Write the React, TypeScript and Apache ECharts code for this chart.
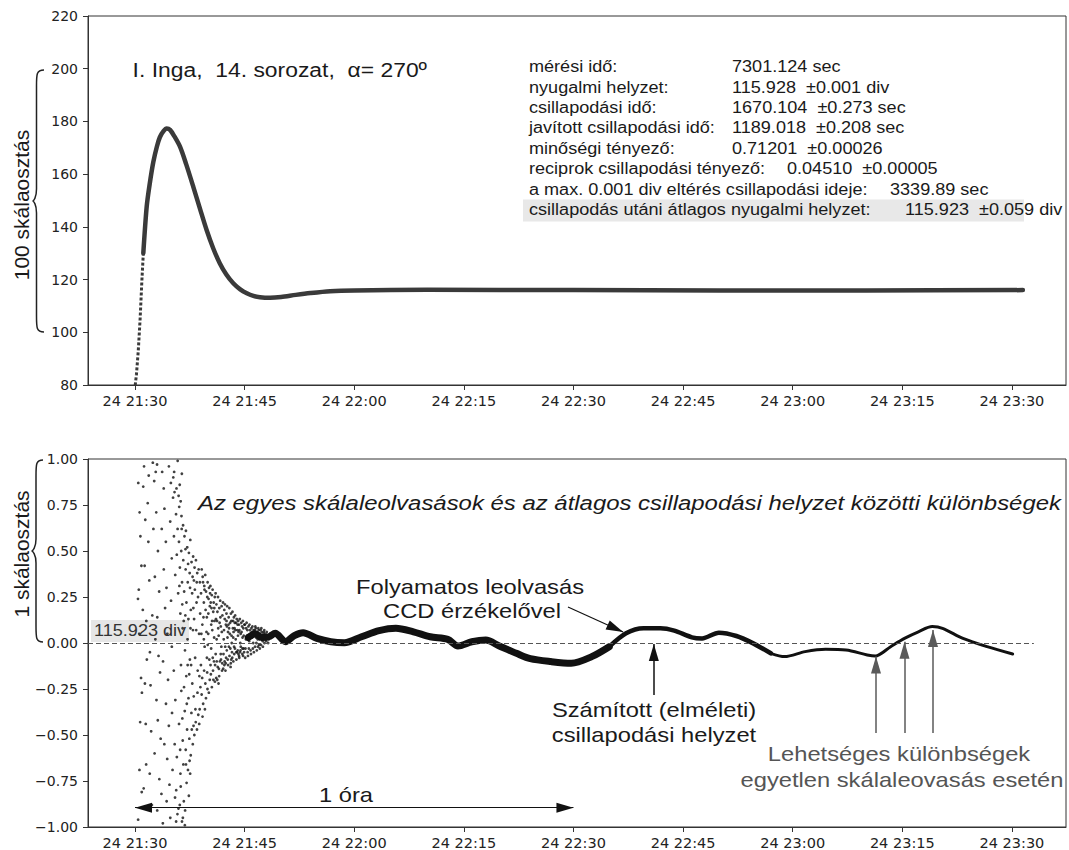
import React, { useEffect, useRef } from 'react';
import * as echarts from 'echarts';

// ---------- data (x in minutes after 24 21:30) ----------
const X_MIN = -6.43;
const X_MAX = 127.4;
const X_TICKS = [0, 15, 30, 45, 60, 75, 90, 105, 120];
const X_TICK_LABELS = ['24 21:30', '24 21:45', '24 22:00', '24 22:15', '24 22:30', '24 22:45', '24 23:00', '24 23:15', '24 23:30'];

// top panel: scale reading (div)
const TOP_RISE: [number, number][] = [[-0.05, 78], [0.2, 84], [0.45, 93], [0.7, 105], [0.95, 120], [1.14, 130]];
const TOP_CURVE: [number, number][] = [
  [1.14, 130], [1.6, 147.6], [2.0, 156], [2.5, 164.5], [3.0, 170.5], [3.4, 174], [3.9, 176.3], [4.34, 177.3],
  [4.8, 176.8], [5.4, 174.3], [6.16, 170.4], [7.0, 163.8], [7.98, 155.2], [8.9, 146.8], [9.8, 138.8], [10.7, 131.9],
  [11.6, 126.2], [12.5, 121.9], [13.45, 118.6], [14.4, 116.3], [15.3, 114.8], [16.2, 113.8], [17.1, 113.3], [18.5, 113.1],
  [20.0, 113.4], [22.0, 114.2], [24.0, 114.9], [26.7, 115.6], [30.0, 115.9], [40.0, 116.1], [60.0, 116.0], [80.0, 115.9],
  [100.0, 115.9], [121.5, 116.0],
];

// bottom panel: individual reading minus mean position (div)
const RES_SCATTER: [number, number][] = [
  [0.45, 0.87], [0.52, 0.29], [0.41, 0.24], [0.63, 0.71], [0.74, 0.58], [0.88, 0.42], [0.83, -0.19], [0.95, -0.27], [0.61, -0.69], [0.92, -0.81],
  [0.43, -0.96], [0.58, 0.05], [0.71, -0.43], [1.13, 0.85], [1.24, 0.96], [1.41, 0.67], [1.32, 0.42], [1.55, 0.12], [1.62, -0.09], [1.47, -0.44],
  [1.53, -0.66], [1.19, -0.79], [1.07, 0.18], [1.36, -0.22], [1.74, 0.76], [1.83, 0.55], [1.96, 0.34], [2.04, -0.05], [2.13, -0.23], [2.21, -0.48],
  [2.02, -0.71], [2.31, -0.88], [2.44, 0.98], [2.52, 0.62], [2.37, 0.15], [1.88, 0.91], [2.63, 0.88], [2.84, 0.93], [3.02, 0.97], [2.91, 0.71],
  [3.14, 0.5], [2.72, 0.36], [3.31, 0.28], [3.05, 0.14], [2.79, 0.02], [3.22, -0.07], [3.43, -0.16], [2.94, -0.31], [3.12, -0.42], [3.51, -0.52],
  [2.68, -0.6], [3.33, -0.74], [3.62, -0.82], [3.04, -0.91], [3.81, -0.98], [3.72, 0.93], [3.93, 0.84], [4.03, 0.73], [3.66, 0.62], [4.22, 0.55],
  [3.94, 0.4], [4.31, 0.3], [4.12, 0.19], [4.43, 0.05], [3.84, -0.1], [4.52, -0.2], [4.24, -0.33], [4.63, -0.45], [4.02, -0.55], [4.41, -0.63],
  [4.72, -0.77], [4.33, -0.86], [4.83, -0.95], [4.64, 0.96], [4.91, 0.87], [4.82, 0.66], [5.03, 0.46], [4.93, 0.23], [5.04, -0.02], [5.07, -0.38],
  [5.14, -0.69], [5.21, 0.79], [5.36, 0.93], [5.48, -0.84], [5.63, -0.97], [5.84, 0.99], [5.95, -0.9], [6.12, 0.86], [6.26, -0.78], [6.41, 0.92],
  [6.55, -0.95], [6.68, -0.86], [6.82, -0.99],
  [5.24, 0.9], [5.41, 0.82], [5.33, 0.58], [5.62, 0.7], [5.51, 0.37], [5.83, 0.62], [5.72, 0.48], [6.02, 0.55], [6.14, 0.41], [5.91, 0.27],
  [6.33, 0.5], [6.44, 0.33], [6.21, 0.16], [6.61, 0.45], [6.73, 0.28], [6.52, 0.08], [6.93, 0.4], [7.04, 0.22], [6.84, -0.04], [7.22, 0.33],
  [7.31, 0.13], [7.53, 0.3], [7.64, 0.18], [7.82, 0.27], [7.93, 0.07], [6.05, 0.74], [6.36, 0.69], [6.58, 0.64], [6.77, 0.58], [6.97, 0.61],
  [7.15, 0.52], [7.38, 0.49], [7.57, 0.56], [7.74, 0.44], [7.96, 0.47], [8.15, 0.41], [8.34, 0.45], [8.52, 0.38], [8.71, 0.4], [8.88, 0.33],
  [5.68, 0.84], [5.97, 0.8], [6.25, 0.77],
  [5.31, -0.15], [5.52, -0.31], [5.43, -0.55], [5.64, -0.8], [5.81, -0.93], [5.73, -0.62], [6.03, -0.44], [6.22, -0.71], [6.13, -0.88], [6.34, -0.26],
  [6.53, -0.53], [6.62, -0.66], [6.81, -0.37], [6.94, -0.58], [7.02, -0.18], [7.13, -0.47], [7.32, -0.3], [7.44, -0.52], [7.51, -0.09], [7.72, -0.38],
  [7.84, -0.22], [8.01, -0.45], [6.43, -0.97], [7.06, -0.76], [7.63, -0.61], [7.25, -0.69], [7.47, -0.64], [7.91, -0.55], [8.12, -0.5], [8.31, -0.43],
  [8.48, -0.47], [8.66, -0.39], [8.85, -0.36], [7.37, -0.83], [6.86, -0.91],
  [8.09, 0.13], [8.23, -0.08], [8.42, 0.22], [8.58, -0.15], [8.77, 0.05], [8.95, -0.24], [7.19, 0.02], [7.68, -0.12], [6.67, 0.12],
  [6.08, 0.31], [6.29, -0.12], [6.47, 0.21], [6.71, -0.24], [6.89, 0.15], [7.09, -0.33], [7.27, 0.43], [7.42, -0.17], [7.59, 0.08], [7.77, -0.47],
  [7.88, 0.36], [8.04, -0.29], [8.19, 0.29], [8.27, -0.36], [8.38, 0.07], [8.55, -0.27], [8.63, 0.25], [8.81, -0.18], [8.92, 0.16], [6.18, -0.58],
  [6.48, -0.41], [6.98, -0.66], [7.21, -0.12], [7.55, -0.71], [7.99, 0.19], [8.45, 0.33], [8.79, -0.44], [6.39, 0.62], [6.91, 0.51], [7.48, 0.38],
  [8.06, 0.34],
  [9.04, 0.27], [9.13, 0.4], [9.22, 0.1], [9.31, 0.33], [9.42, 0.22], [9.53, -0.02], [9.61, 0.37], [9.72, 0.28], [9.83, 0.14], [9.94, 0.33],
  [10.02, 0.05], [10.13, 0.3], [10.24, 0.2], [10.32, 0.31], [10.43, 0.1], [10.51, 0.26], [10.62, 0.29], [10.71, 0.17], [10.83, 0.03], [10.92, 0.25],
  [11.03, 0.27], [11.14, 0.21], [11.23, 0.12], [11.36, 0.25], [11.45, 0.04], [11.54, 0.19], [11.66, 0.23], [11.74, 0.09], [11.85, 0.2], [11.96, 0.15],
  [9.26, 0.36], [9.66, 0.18], [10.07, 0.24], [10.47, 0.19], [10.88, 0.12], [11.28, 0.17], [11.69, 0.14],
  [9.12, -0.28], [9.33, -0.33], [9.46, -0.15], [9.71, -0.3], [9.92, -0.25], [10.11, -0.27], [10.34, -0.12], [10.52, -0.24], [10.73, -0.2], [10.94, -0.21],
  [11.12, -0.19], [11.32, -0.13], [11.52, -0.18], [11.73, -0.06], [11.91, -0.15], [9.02, -0.12], [9.84, -0.08], [10.23, -0.2], [10.64, -0.08], [11.43, -0.22],
  [9.57, -0.36], [9.24, -0.4], [10.42, -0.03], [10.81, -0.1], [11.04, -0.06], [11.62, -0.1], [9.42, 0.02], [9.95, -0.01], [10.58, 0.07], [11.17, 0.02],
  [11.82, -0.02],
  [9.08, 0.05], [9.19, -0.19], [9.37, 0.14], [9.51, 0.29], [9.63, -0.22], [9.78, 0.06], [9.88, -0.16], [10.04, 0.16], [10.17, -0.09], [10.28, 0.27],
  [10.38, -0.17], [10.55, 0.12], [10.68, -0.15], [10.77, 0.22], [10.96, -0.12], [11.08, 0.13], [11.19, -0.1], [11.39, 0.08], [11.48, -0.14], [11.58, 0.11],
  [11.77, -0.09], [11.88, 0.06], [9.48, 0.31], [9.89, 0.25], [10.36, 0.22], [10.85, 0.19], [11.26, -0.2], [11.94, -0.11],
  [12.05, 0.22], [12.14, 0.02], [12.22, 0.18], [12.31, 0.21], [12.43, 0.1], [12.52, 0.16], [12.61, 0.2], [12.73, 0.06], [12.82, 0.14], [12.91, 0.19],
  [13.02, 0.11], [13.13, 0.16], [13.21, 0.04], [13.34, 0.17], [13.42, 0.12], [13.53, 0.14], [13.62, 0.08], [13.71, 0.15], [13.83, 0.11], [13.92, 0.13],
  [14.01, 0.07], [14.12, 0.12], [14.23, 0.1], [14.34, 0.13], [14.46, 0.05], [14.55, 0.11], [14.66, 0.09], [14.77, 0.12], [14.88, 0.04], [14.97, 0.1],
  [12.07, -0.14], [12.26, -0.1], [12.38, -0.15], [12.56, -0.04], [12.74, -0.12], [12.93, -0.07], [13.08, -0.13], [13.27, -0.05], [13.46, -0.1], [13.67, -0.03],
  [13.88, -0.09], [14.06, -0.04], [14.27, -0.08], [14.48, -0.02], [14.69, -0.06], [14.86, -0.03], [12.47, -0.08], [12.85, -0.02], [13.17, -0.09], [13.58, -0.06],
  [13.97, -0.05], [14.38, -0.05], [14.79, -0.07],
  [12.18, 0.07], [12.35, -0.02], [12.66, 0.03], [12.97, 0.05], [13.24, 0.0], [13.49, 0.06], [13.78, 0.02], [14.09, 0.04], [14.41, 0.0], [14.72, 0.03],
  [12.79, 0.1], [13.39, 0.08], [14.18, 0.06],
  [12.11, -0.06], [12.28, 0.13], [12.41, -0.11], [12.58, 0.09], [12.69, -0.09], [12.88, 0.08], [13.05, -0.03], [13.19, 0.12], [13.31, -0.08], [13.44, 0.03],
  [13.56, -0.02], [13.74, 0.07], [13.86, -0.05], [14.03, 0.1], [14.15, -0.06], [14.29, 0.07], [14.44, -0.04], [14.58, 0.06], [14.71, -0.03], [14.83, 0.08],
  [14.93, -0.05], [12.23, -0.12], [12.53, 0.12], [13.11, -0.11], [13.65, 0.11], [14.24, -0.07],
  [15.03, 0.1], [15.12, -0.03], [15.21, 0.08], [15.33, 0.04], [15.41, -0.05], [15.52, 0.09], [15.63, 0.01], [15.71, 0.07], [15.82, -0.04], [15.93, 0.08],
  [16.02, 0.03], [16.13, -0.03], [16.22, 0.07], [16.31, 0.05], [16.43, -0.02], [16.52, 0.08], [16.61, 0.0], [16.72, 0.06], [16.83, -0.02], [16.94, 0.07],
  [17.02, 0.02], [17.13, 0.05], [17.24, -0.01], [17.36, 0.06], [17.47, 0.01], [17.58, 0.05], [17.72, 0.0], [17.85, 0.05], [17.97, 0.01], [18.12, 0.04],
  [18.31, 0.02], [18.48, 0.05], [15.08, -0.08], [15.46, -0.07], [15.87, -0.06], [16.27, -0.05], [16.67, -0.04], [17.08, -0.03], [17.5, -0.02], [15.27, 0.11],
  [15.67, 0.1], [16.07, 0.09], [16.47, 0.09], [16.87, 0.08], [17.29, 0.08], [17.69, 0.07],
  [15.17, 0.02], [15.37, 0.07], [15.58, -0.03], [15.77, 0.03], [15.98, 0.06], [16.18, 0.0], [16.38, 0.07], [16.58, 0.03], [16.78, 0.02], [16.98, -0.01],
  [17.18, 0.07], [17.41, 0.03], [17.63, 0.06], [17.81, 0.02], [18.03, 0.06], [18.22, 0.0],
];
const RES_LINE_A: [number, number][] = [
  [15.5, 0.03], [16.5, 0.05], [17.3, 0.03], [18.3, 0.034], [19.2, 0.053], [20.6, 0.007], [21.8, 0.04], [23.0, 0.056], [24.9, 0.025],
  [26.8, 0.007], [28.65, 0.002], [31.0, 0.034], [33.4, 0.067], [35.7, 0.08], [38.1, 0.061], [40.4, 0.034], [42.8, 0.02], [44.2, -0.016],
  [46.1, 0.007], [48.0, 0.016], [49.85, -0.016], [52.2, -0.056], [54.1, -0.085], [56.9, -0.101], [59.7, -0.11], [62.5, -0.074], [64.9, -0.02],
];
const RES_LINE_B: [number, number][] = [
  [64.9, -0.02], [67.2, 0.053], [69.6, 0.08], [71.9, 0.08], [73.8, 0.067], [76.2, 0.031], [77.6, 0.025], [79.9, 0.056], [82.3, 0.038],
  [84.6, -0.002], [87.0, -0.056],
];
const RES_LINE_C: [number, number][] = [
  [87.0, -0.056], [88.9, -0.074], [91.7, -0.047], [94.5, -0.034], [97.3, -0.038], [100.2, -0.065], [101.3, -0.071], [103.4, -0.02],
  [105.3, 0.025], [107.2, 0.061], [109.1, 0.089], [110.5, 0.08], [113.3, 0.025], [116.6, -0.02], [120.1, -0.06],
];

// ---------- shapes ----------
function bracePath(xe: number, xm: number, xt: number, y0: number, y1: number) {
  const ym = (y0 + y1) / 2;
  const r1 = 16, r2 = 12;
  return [
    `M${xe} ${y0}`,
    `C${xm} ${y0} ${xm} ${y0 + 4} ${xm} ${y0 + r1}`,
    `L${xm} ${ym - r2}`,
    `C${xm} ${ym - 3} ${xt + 1} ${ym} ${xt} ${ym}`,
    `C${xt + 1} ${ym} ${xm} ${ym + 3} ${xm} ${ym + r2}`,
    `L${xm} ${y1 - r1}`,
    `C${xm} ${y1 - 4} ${xm} ${y1} ${xe} ${y1}`,
  ].join(' ');
}
echarts.graphic.registerShape('braceTop', echarts.graphic.extendPath(bracePath(44, 36.5, 32.5, 70, 332), {}) as any);
echarts.graphic.registerShape('braceBot', echarts.graphic.extendPath(bracePath(43, 36, 31.5, 460, 642), {}) as any);

const FONT_TICK = '"DejaVu Sans", sans-serif';
const FONT_TXT = '"Liberation Sans", Arial, sans-serif';
const AX = '#333';

function txt(text: string, x: number, y: number, o: any = {}) {
  const align = o.align || 'left';
  return {
    type: 'text', x, y, z: 100, scaleX: o.sx ?? 1.13, rotation: o.rot || 0,
    style: {
      text, fontSize: o.size || 21, fontFamily: FONT_TXT, fontStyle: o.italic ? 'italic' : 'normal',
      fill: o.color || '#1a1a1a', textAlign: align, textVerticalAlign: 'middle', align, verticalAlign: 'middle',
    },
  };
}

function arrowPair(x0: number, y0: number, x1: number, y1: number, color: string, both = false, w = 1.3) {
  const head = { symbol: 'triangle', symbolSize: [10, 17], symbolOffset: [0, 8.5] };
  return [
    { coord: [x0, y0], ...(both ? head : { symbol: 'none' }), lineStyle: { color, width: w, type: 'solid' }, itemStyle: { color } },
    { coord: [x1, y1], ...head, itemStyle: { color } },
  ];
}

function xAxis(gridIndex: number) {
  return {
    type: 'value', gridIndex, min: X_MIN, max: X_MAX,
    axisLine: { show: true, onZero: false, lineStyle: { color: AX, width: 1 } },
    axisTick: { show: true, length: 5, lineStyle: { color: AX }, customValues: X_TICKS },
    axisLabel: {
      customValues: X_TICKS, fontFamily: FONT_TICK, fontSize: 14.5, color: '#222', margin: 8,
      formatter: (v: number) => { const i = X_TICKS.indexOf(Math.round(v)); return i >= 0 ? X_TICK_LABELS[i] : ''; },
    },
    splitLine: { show: false },
  };
}

const option: any = {
  animation: false,
  backgroundColor: '#fff',
  grid: [
    { left: 88, top: 16, width: 978, height: 369, show: true, borderColor: AX, borderWidth: 1, backgroundColor: 'transparent' },
    { left: 88, top: 459, width: 978, height: 368, show: true, borderColor: AX, borderWidth: 1, backgroundColor: 'transparent' },
  ],
  xAxis: [xAxis(0), xAxis(1)],
  yAxis: [
    {
      type: 'value', gridIndex: 0, min: 80, max: 220, interval: 20,
      axisLine: { show: true, onZero: false, lineStyle: { color: AX } }, axisTick: { show: true, length: 5, lineStyle: { color: AX } },
      axisLabel: { fontFamily: FONT_TICK, fontSize: 14, color: '#222', margin: 10 }, splitLine: { show: false },
    },
    {
      type: 'value', gridIndex: 1, min: -1, max: 1, interval: 0.25,
      axisLine: { show: true, onZero: false, lineStyle: { color: AX } }, axisTick: { show: true, length: 5, lineStyle: { color: AX } },
      axisLabel: {
        fontFamily: FONT_TICK, fontSize: 14, color: '#222', margin: 10,
        formatter: (v: number) => (v < -1e-9 ? '\u2212' : '') + Math.abs(v).toFixed(2),
      },
      splitLine: { show: false },
    },
  ],
  series: [
    {
      type: 'line', xAxisIndex: 0, yAxisIndex: 0, data: TOP_RISE, showSymbol: false, silent: true,
      lineStyle: { color: '#3a3a3a', width: 3, type: [3, 2] },
    },
    {
      type: 'line', xAxisIndex: 0, yAxisIndex: 0, data: TOP_CURVE, showSymbol: false, smooth: 0.3, silent: true,
      lineStyle: { color: '#3a3a3a', width: 4.5, cap: 'round', join: 'round' },
    },
    {
      type: 'scatter', xAxisIndex: 1, yAxisIndex: 1, data: RES_SCATTER, symbolSize: 2.8, silent: true,
      itemStyle: { color: '#111' },
    },
    {
      type: 'line', xAxisIndex: 1, yAxisIndex: 1, data: RES_LINE_A, showSymbol: false, smooth: 0.3, silent: true,
      lineStyle: { color: '#111', width: 7, cap: 'round', join: 'round' },
    },
    {
      type: 'line', xAxisIndex: 1, yAxisIndex: 1, data: RES_LINE_B, showSymbol: false, smooth: 0.3, silent: true,
      lineStyle: { color: '#111', width: 4.5, cap: 'round', join: 'round' },
    },
    {
      type: 'line', xAxisIndex: 1, yAxisIndex: 1, data: RES_LINE_C, showSymbol: false, smooth: 0.3, silent: true,
      lineStyle: { color: '#111', width: 3, cap: 'round', join: 'round' },
      markLine: {
        silent: true, animation: false, label: { show: false }, symbol: ['none', 'none'], emphasis: { disabled: true },
        data: [
          [
            { coord: [X_MIN, 0], symbol: 'none', lineStyle: { color: '#555', width: 1, type: [5, 3] } },
            { coord: [123, 0], symbol: 'none' },
          ],
          arrowPair(0, -0.895, 60, -0.895, '#111', true, 1.2),
          arrowPair(59.25, 0.196, 66.8, 0.06, '#111', false, 1.2),
          arrowPair(71.0, -0.283, 71.0, -0.005, '#111', false, 1.5),
          arrowPair(101.4, -0.489, 101.4, -0.074, '#5a5a5a', false, 1.5),
          arrowPair(105.3, -0.489, 105.3, 0.007, '#5a5a5a', false, 1.5),
          arrowPair(109.2, -0.489, 109.2, 0.071, '#5a5a5a', false, 1.5),
        ],
      },
    },
  ],
  graphic: [
    // top panel
    { type: 'braceTop', x: 0, y: 0, z: 100, style: { stroke: '#222', fill: 'none', lineWidth: 1.5 } },
    txt('100 skálaosztás', 21, 205, { align: 'center', rot: Math.PI / 2, sx: 1 }),
    txt('I. Inga,  14. sorozat,  \u03b1= 270\u00ba', 132.6, 70, { sx: 1.09 }),
    { type: 'rect', z: 1, shape: { x: 523, y: 199.5, width: 501, height: 22 }, style: { fill: '#e8e8e8' } },
    txt('mérési idő:', 529, 67, { size: 16 }),
    txt('7301.124 sec', 732, 67, { size: 16 }),
    txt('nyugalmi helyzet:', 529, 87.4, { size: 16 }),
    txt('115.928  ±0.001 div', 732, 87.4, { size: 16 }),
    txt('csillapodási idő:', 529, 107.8, { size: 16 }),
    txt('1670.104  ±0.273 sec', 732, 107.8, { size: 16 }),
    txt('javított csillapodási idő:', 529, 128.2, { size: 16 }),
    txt('1189.018  ±0.208 sec', 732, 128.2, { size: 16 }),
    txt('minőségi tényező:', 529, 148.6, { size: 16 }),
    txt('0.71201  ±0.00026', 732, 148.6, { size: 16 }),
    txt('reciprok csillapodási tényező:', 529, 169, { size: 16 }),
    txt('0.04510  ±0.00005', 787, 169, { size: 16 }),
    txt('a max. 0.001 div eltérés csillapodási ideje:', 529, 189.4, { size: 16 }),
    txt('3339.89 sec', 890, 189.4, { size: 16 }),
    txt('csillapodás utáni átlagos nyugalmi helyzet:', 529, 209.8, { size: 16 }),
    txt('115.923  ±0.059 div', 905, 209.8, { size: 16 }),
    // bottom panel
    { type: 'braceBot', x: 0, y: 0, z: 100, style: { stroke: '#222', fill: 'none', lineWidth: 1.5 } },
    txt('1 skálaosztás', 21, 554, { align: 'center', rot: Math.PI / 2, sx: 1 }),
    txt('Az egyes skálaleolvasások és az átlagos csillapodási helyzet közötti különbségek', 198, 503, { italic: true, sx: 1.14 }),
    { type: 'rect', z: 1, shape: { x: 91, y: 620, width: 98, height: 22 }, style: { fill: '#e6e6e6' } },
    txt('115.923 div', 94, 631, { size: 16, color: '#333' }),
    txt('Folyamatos leolvasás', 470, 587, { align: 'center' }),
    txt('CCD érzékelővel', 472, 611, { align: 'center' }),
    txt('Számított (elméleti)', 654, 710, { align: 'center' }),
    txt('csillapodási helyzet', 654, 735, { align: 'center' }),
    txt('Lehetséges különbségek', 899, 754, { align: 'center', color: '#555' }),
    txt('egyetlen skálaleovasás esetén', 902, 780, { align: 'center', color: '#555' }),
    txt('1 óra', 346, 795, { align: 'center' }),
  ],
};

export default function App() {
  const ref = useRef<HTMLDivElement>(null);
  useEffect(() => {
    const chart = echarts.init(ref.current!, null, { renderer: 'svg' });
    chart.setOption(option);
    return () => chart.dispose();
  }, []);
  return (
    <div
      ref={ref}
      style={{ position: 'absolute', left: 0, top: 0, width: 1069, height: 850, background: '#fff' }}
    />
  );
}
